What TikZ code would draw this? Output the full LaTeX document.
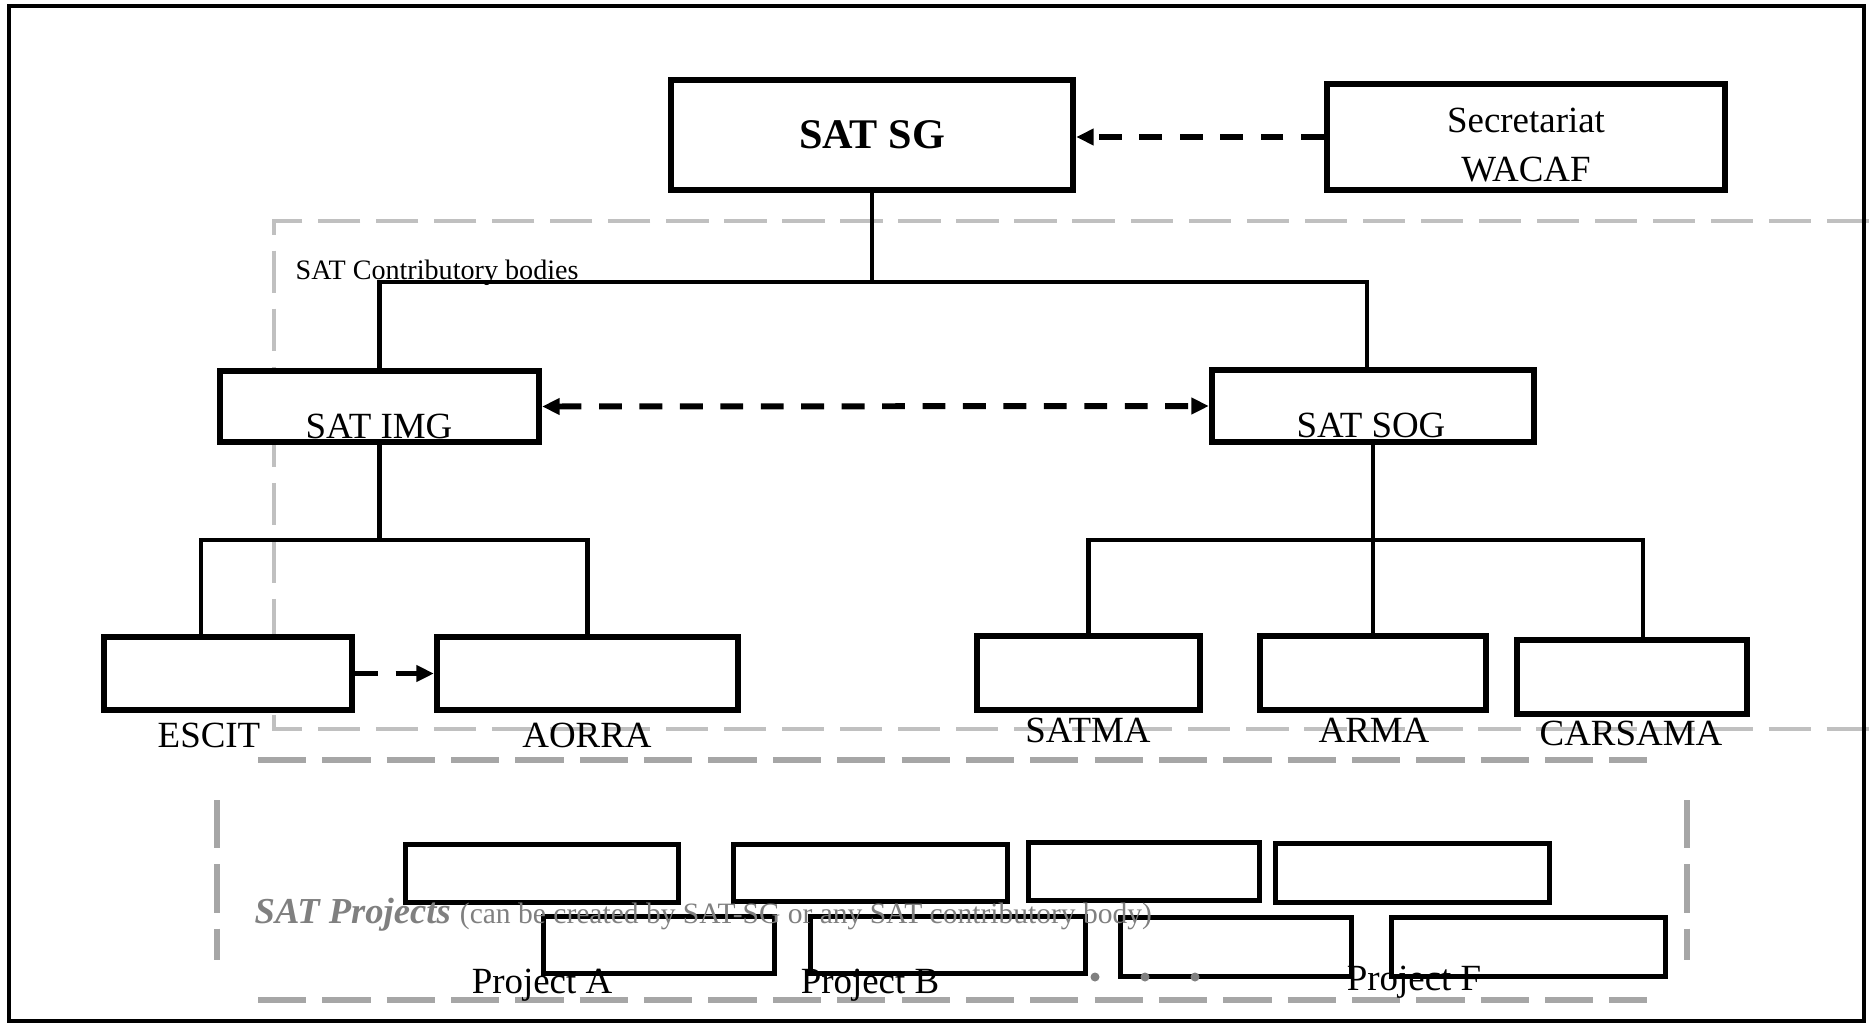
\documentclass[tikz,border=0pt]{standalone}
\usepackage{fontspec}
\setmainfont{Liberation Serif}
\usetikzlibrary{arrows.meta}
\definecolor{lightgrey}{HTML}{C0C0C0}
\definecolor{projgrey}{HTML}{A6A6A6}
\definecolor{textgrey}{HTML}{808080}

\begin{document}
\begin{tikzpicture}[x=0.01cm,y=-0.01cm,
		box/.style={draw,fill=white,line width=1.7pt,inner sep=0pt},
		pbox/.style={draw,fill=white,line width=1.5pt,inner sep=0pt},
		lbl/.style={inner sep=0pt,anchor=base,font=\fontsize{10.5}{13}\selectfont},
		conn/.style={line width=1.3pt},
		darr/.style={line width=1.7pt,dash pattern=on 6.5pt off 5pt,>={Triangle[length=5pt,width=4.5pt]}},
		lightdash/.style={lightgrey,line width=1.4pt,dash pattern=on 12pt off 4.5pt},
		darkdash/.style={projgrey,line width=1.7pt,dash pattern=on 13.7pt off 4.6pt}]
		\useasboundingbox (0,0) rectangle (1869,1024);

		% grey groups
		\draw[lightdash] (1869,221) -- (274,221) -- (274,729) -- (1869,729);
		\draw[darkdash] (258,760) -- (1647,760);
		\draw[darkdash] (258,1000) -- (1647,1000);
		\draw[darkdash] (217,800) -- (217,960);
		\draw[darkdash] (1687,800) -- (1687,960);

		\node[box,minimum width=4.02cm,minimum height=1.10cm,font=\fontsize{12}{14}\selectfont\bfseries]	(sg)	at (872,135)	{SAT SG};
		\node[box,minimum width=3.98cm,minimum height=1.06cm]	(sec)		at (1526,137)		{};
		\node[box,minimum width=3.19cm,minimum height=0.71cm]	(img)		at (379.5,406.5)	{};
		\node[box,minimum width=3.22cm,minimum height=0.72cm]	(sog)		at (1373,406)		{};
		\node[box,minimum width=2.48cm,minimum height=0.73cm]	(escit)		at (228,673.5)		{};
		\node[box,minimum width=3.01cm,minimum height=0.73cm]	(aorra)		at (587.5,673.5)	{};
		\node[box,minimum width=2.23cm,minimum height=0.74cm]	(satma)		at (1088.5,673)		{};
		\node[box,minimum width=2.26cm,minimum height=0.74cm]	(arma)		at (1373,673)		{};
		\node[box,minimum width=2.30cm,minimum height=0.74cm]	(carsama)	at (1632,677)		{};

		% project boxes
		\node[pbox,minimum width=2.73cm,minimum height=0.58cm]	(pa1)	at (542,873.5)	{};
		\node[pbox,minimum width=2.74cm,minimum height=0.57cm]	(pa2)	at (870.5,873)	{};
		\node[pbox,minimum width=2.31cm,minimum height=0.58cm]	(pa3)	at (1144,871.5)	{};
		\node[pbox,minimum width=2.74cm,minimum height=0.59cm]	(pa4)	at (1412.5,873)	{};
		\node[pbox,minimum width=2.31cm,minimum height=0.57cm]	(pb1)	at (659,945)	{};
		\node[pbox,minimum width=2.75cm,minimum height=0.57cm]	(pb2)	at (948,945)	{};
		\node[pbox,minimum width=2.31cm,minimum height=0.59cm]	(pb3)	at (1236,947)	{};
		\node[pbox,minimum width=2.74cm,minimum height=0.59cm]	(pb4)	at (1528.5,947)	{};

		\draw[conn] (sg.south) -- ++(0,89) -| (img.north);
		\draw[conn] (sg.south) -- ++(0,89) -| ([xshift=-0.06cm]sog.north);
		\draw[conn] (img.south) -- ++(0,95) -| ([xshift=-0.27cm]escit.north);
		\draw[conn] (img.south) -- ++(0,95) -| (aorra.north);
		\draw[conn] (sog.south) -- (arma.north);
		\draw[conn] (sog.south) -- ++(0,95) -| (satma.north);
		\draw[conn] (sog.south) -- ++(0,95) -| ([xshift=0.11cm]carsama.north);

		\draw[darr,->] (sec.west) -- (sec.west -| sg.east);
		\draw[darr,<->] (img.east) -- (sog.west);
		\draw[darr,->] (escit.east) -- (aorra.west);

		\foreach \x in {1095,1145,1195}
			\fill[textgrey] (\x,977) circle (0.045cm);

		% texts
		\node[align=center,inner sep=0pt,font=\fontsize{10.5}{13.7}\selectfont]	(seclbl)	at (1526,145)	{Secretariat\\WACAF};
		\node[inner sep=0pt,anchor=base west,font=\fontsize{8}{10}\selectfont]	(contrib)	at (295,279)	{SAT Contributory bodies};
		\node[lbl]	(imglbl)		at (379,438)	{SAT IMG};
		\node[lbl]	(soglbl)		at (1371,437)	{SAT SOG};
		\node[lbl]	(escitlbl)		at (209,747)	{ESCIT};
		\node[lbl]	(aorralbl)		at (587,747)	{AORRA};
		\node[lbl]	(satmalbl)		at (1088,742)	{SATMA};
		\node[lbl]	(armalbl)		at (1374,742)	{ARMA};
		\node[lbl]	(carsamalbl)	at (1631,745)	{CARSAMA};
		\node[inner sep=0pt,anchor=base west,textgrey]	(projects)	at (254,923)
			{\fontsize{10.4}{12}\selectfont\bfseries\itshape SAT Projects\ \mdseries\upshape\fontsize{8.4}{10}\selectfont(can be created by SAT-SG or any SAT contributory body)};
		\node[lbl]	(projalbl)	at (542,993)	{Project A};
		\node[lbl]	(projblbl)	at (870,993)	{Project B};
		\node[lbl]	(projflbl)	at (1414,990)	{Project F};

		\draw[line width=1.4pt] (9,6) rectangle (1864,1021);
	\end{tikzpicture}
\end{document}
